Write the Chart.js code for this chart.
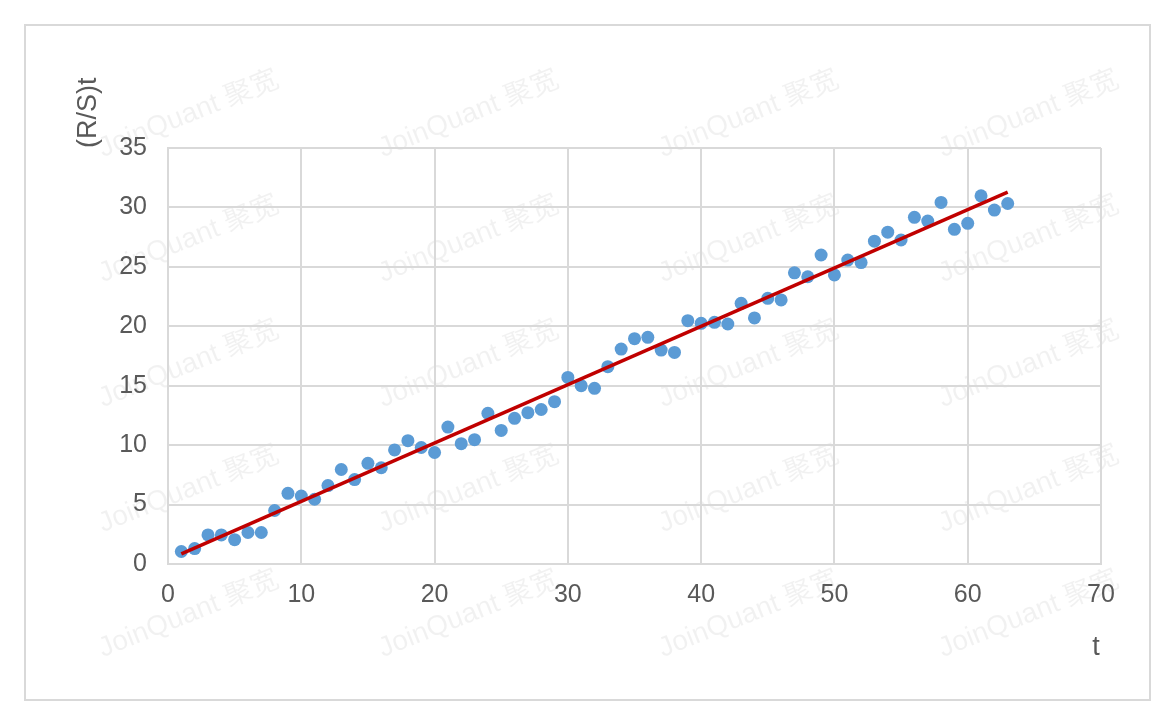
<!DOCTYPE html>
<html>
<head>
<meta charset="utf-8">
<script src="https://cdn.jsdelivr.net/npm/chart.js@4.4.0/dist/chart.umd.min.js"></script>
<style>
  html, body { margin: 0; padding: 0; background: #fff; }
  #wrap { position: absolute; left: 0; top: 0; width: 1173px; height: 719px; }
</style>
</head>
<body>
<div id="wrap"><canvas id="rs-chart"></canvas></div>
<script>
  // t = 1..63 and the (R/S)t values
  const tValues = [
    1, 2, 3, 4, 5, 6, 7, 8, 9, 10, 11, 12, 13, 14, 15, 16, 17, 18, 19, 20, 21,
    22, 23, 24, 25, 26, 27, 28, 29, 30, 31, 32, 33, 34, 35, 36, 37, 38, 39, 40, 41, 42,
    43, 44, 45, 46, 47, 48, 49, 50, 51, 52, 53, 54, 55, 56, 57, 58, 59, 60, 61, 62, 63
  ];
  const rsValues = [
    1.05, 1.3, 2.45, 2.45, 2.05, 2.65, 2.65, 4.5, 5.95, 5.72, 5.45, 6.6, 7.95, 7.1, 8.47, 8.1, 9.6, 10.38, 9.8, 9.38, 11.52,
    10.12, 10.46, 12.68, 11.24, 12.26, 12.73, 13.0, 13.66, 15.7, 15.0, 14.78, 16.6, 18.08, 18.96, 19.07, 18.0, 17.8, 20.47, 20.25, 20.33, 20.19,
    21.93, 20.7, 22.35, 22.22, 24.5, 24.17, 26.0, 24.32, 25.57, 25.36, 27.16, 27.92, 27.26, 29.17, 28.85, 30.42, 28.16, 28.66, 30.98, 29.78, 30.33
  ];
  const xTicks = [0, 10, 20, 30, 40, 50, 60, 70];
  const yTicks = [0, 5, 10, 15, 20, 25, 30, 35];

  // linear trendline (least squares) from the data
  const n = tValues.length;
  const mx = tValues.reduce((a, b) => a + b, 0) / n;
  const my = rsValues.reduce((a, b) => a + b, 0) / n;
  let sxy = 0, sxx = 0;
  for (let i = 0; i < n; i++) {
    sxy += (tValues[i] - mx) * (rsValues[i] - my);
    sxx += (tValues[i] - mx) * (tValues[i] - mx);
  }
  const slope = sxy / sxx;
  const intercept = my - slope * mx;
  const tFirst = tValues[0], tLast = tValues[n - 1];

  const labelColor = '#595959';
  const gridColor = '#d9d9d9';
  const fontFamily = '"Liberation Sans", "Noto Sans", sans-serif';

  // frame, faint watermark and axis titles
  const decorations = {
    id: 'decorations',
    beforeDraw(chart) {
      const ctx = chart.ctx;
      ctx.save();
      ctx.fillStyle = '#fff';
      ctx.fillRect(0, 0, chart.width, chart.height);
      ctx.strokeStyle = '#d9d9d9';
      ctx.lineWidth = 2;
      ctx.strokeRect(25, 25, 1125, 675);

      // watermark
      ctx.fillStyle = 'rgba(0,0,0,0.055)';
      ctx.font = '28px "Liberation Sans", "Noto Sans CJK SC", sans-serif';
      ctx.textAlign = 'left';
      ctx.textBaseline = 'middle';
      for (let r = 0; r < 5; r++) {
        for (let c = 0; c < 4; c++) {
          ctx.save();
          ctx.translate(100 + c * 280, 150 + r * 125);
          ctx.rotate(-0.38);
          ctx.fillText('JoinQuant 聚宽', 0, 0);
          ctx.restore();
        }
      }
      ctx.restore();
    },
    afterDraw(chart) {
      const ctx = chart.ctx;
      ctx.save();
      ctx.fillStyle = labelColor;
      ctx.font = '27px ' + fontFamily;
      ctx.translate(89, 148);
      ctx.rotate(-Math.PI / 2);
      ctx.textAlign = 'left';
      ctx.textBaseline = 'middle';
      ctx.fillText('(R/S)t', 0, 0);
      ctx.restore();

      ctx.save();
      ctx.fillStyle = labelColor;
      ctx.font = '27px ' + fontFamily;
      ctx.textAlign = 'center';
      ctx.textBaseline = 'middle';
      ctx.fillText('t', 1096, 648);
      ctx.restore();
    }
  };

  new Chart(document.getElementById('rs-chart'), {
    type: 'scatter',
    data: {
      datasets: [
        {
          label: '(R/S)t',
          data: tValues.map((t, i) => ({ x: t, y: rsValues[i] })),
          backgroundColor: '#5b9bd5',
          borderWidth: 0,
          pointRadius: 6.5,
          order: 1
        },
        {
          label: 'trend',
          type: 'line',
          data: [
            { x: tFirst, y: intercept + slope * tFirst },
            { x: tLast, y: intercept + slope * tLast }
          ],
          borderColor: '#c00000',
          borderWidth: 3.5,
          pointRadius: 0,
          fill: false,
          order: 0
        }
      ]
    },
    options: {
      responsive: true,
      maintainAspectRatio: false,
      animation: false,
      layout: { padding: { top: 148, right: 72, left: 0, bottom: 0 } },
      plugins: {
        legend: { display: false },
        tooltip: { enabled: false }
      },
      scales: {
        x: {
          type: 'linear',
          min: 0,
          max: 70,
          afterBuildTicks: scale => { scale.ticks = xTicks.map(v => ({ value: v })); },
          afterFit: scale => { scale.height = 155; },
          grid: { color: gridColor, lineWidth: 2, drawTicks: false },
          border: { color: gridColor, width: 2 },
          ticks: { color: labelColor, font: { size: 25, family: fontFamily }, padding: 16 }
        },
        y: {
          type: 'linear',
          min: 0,
          max: 35,
          afterBuildTicks: scale => { scale.ticks = yTicks.map(v => ({ value: v })); },
          afterFit: scale => { scale.width = 168; },
          grid: { color: gridColor, lineWidth: 2, drawTicks: false },
          border: { color: gridColor, width: 2 },
          ticks: { color: labelColor, font: { size: 25, family: fontFamily }, padding: 21 }
        }
      }
    },
    plugins: [decorations]
  });
</script>
</body>
</html>
